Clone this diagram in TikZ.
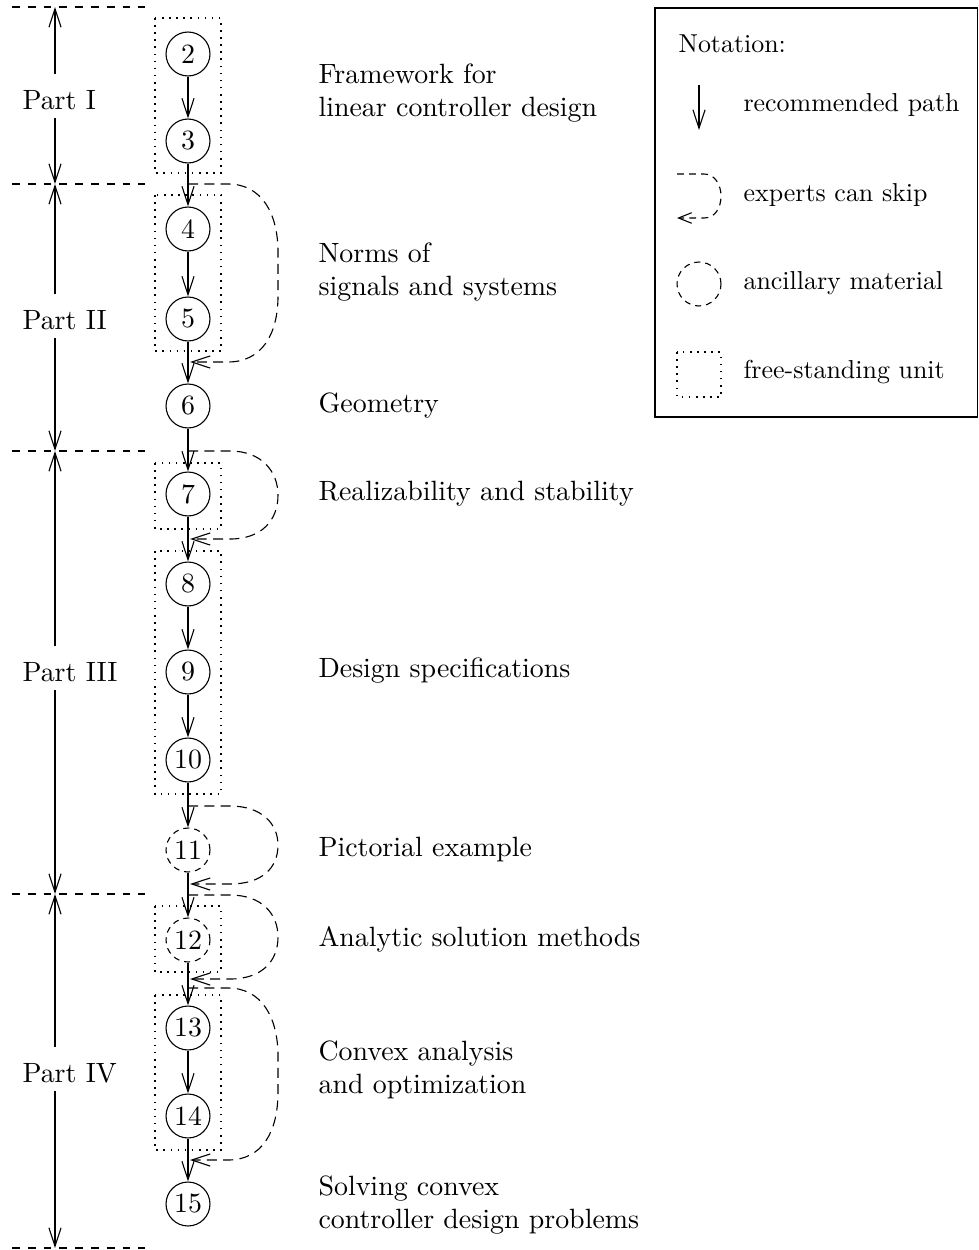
\documentclass[tikz,border=0pt]{standalone}
\usetikzlibrary{arrows.meta}
\begin{document}
\begin{tikzpicture}[x=0.38pt,y=-0.38pt,line width=0.42pt,
  tip/.style={-{Straight Barb[length=7pt,width=4.6pt]}},
  chap/.style={circle,draw,minimum size=16.7pt,inner sep=0pt,font=\fontsize{10.6}{12.6}\selectfont},
  anc/.style={chap,dash pattern=on 2.3pt off 1.9pt},
  unitbox/.style={draw,dash pattern=on 0.6pt off 2.1pt},
  sepline/.style={dash pattern=on 3pt off 3pt},
  skipline/.style={dash pattern=on 3.8pt off 2.4pt,-{Straight Barb[length=7pt,width=4.6pt]}},
  lab/.style={anchor=west,align=left,inner sep=0pt,font=\fontsize{10.6}{12.6}\selectfont},
  partlab/.style={anchor=west,inner sep=0pt,font=\fontsize{10.6}{12.6}\selectfont},
  leglab/.style={anchor=west,inner sep=0pt,font=\fontsize{9.85}{12}\selectfont}]
\useasboundingbox (0,0) rectangle (979,1250);

% separators
\foreach \yy in {7,184,451,894,1248} \draw[sepline] (12,\yy) -- (145,\yy);

% part labels and arrows
\node[partlab] (p1) at (22,100) {Part I};
\node[partlab] (p2) at (22,320) {Part II};
\node[partlab] (p3) at (22,672) {Part III};
\node[partlab] (p4) at (22,1073) {Part IV};
\coordinate (p1t) at (55,74);   \coordinate (p1b) at (55,118);
\coordinate (p2t) at (55,294);  \coordinate (p2b) at (55,338);
\coordinate (p3t) at (55,646);  \coordinate (p3b) at (55,690);
\coordinate (p4t) at (55,1047); \coordinate (p4b) at (55,1091);
\coordinate (s0) at (55,7); \coordinate (s1) at (55,184); \coordinate (s2) at (55,451);
\coordinate (s3) at (55,894); \coordinate (s4) at (55,1248);
\draw[tip] (p1t) -- (s0); \draw[tip] (p1b) -- (s1);
\draw[tip] (p2t) -- (s1); \draw[tip] (p2b) -- (s2);
\draw[tip] (p3t) -- (s2); \draw[tip] (p3b) -- (s3);
\draw[tip] (p4t) -- (s3); \draw[tip] (p4b) -- (s4);

% free-standing units
\draw[unitbox] (155,18) rectangle (221,173);
\draw[unitbox] (155,195) rectangle (221,351);
\draw[unitbox] (155,463) rectangle (221,529);
\draw[unitbox] (155,551) rectangle (221,794);
\draw[unitbox] (155,906) rectangle (221,972);
\draw[unitbox] (155,995) rectangle (221,1150);

% chapters
\node[chap] (c2) at (188,54) {2};
\node[chap] (c3) at (188,141) {3};
\node[chap] (c4) at (188,229) {4};
\node[chap] (c5) at (188,319) {5};
\node[chap] (c6) at (188,406) {6};
\node[chap] (c7) at (188,494) {7};
\node[chap] (c8) at (188,584) {8};
\node[chap] (c9) at (188,672) {9};
\node[chap] (c10) at (188,760) {10};
\node[anc] (c11) at (188,850) {11};
\node[anc] (c12) at (188,940) {12};
\node[chap] (c13) at (188,1028) {13};
\node[chap] (c14) at (188,1116) {14};
\node[chap] (c15) at (188,1204) {15};

\foreach \a/\b in {c2/c3,c3/c4,c4/c5,c5/c6,c6/c7,c7/c8,c8/c9,c9/c10,c10/c11,c11/c12,c12/c13,c13/c14,c14/c15}
  \draw[tip] (\a) -- (\b);

% skip loops
\coordinate (k1a) at (188,184);  \coordinate (k1b) at (190,362);
\coordinate (k2a) at (188,451);  \coordinate (k2b) at (190,539);
\coordinate (k3a) at (188,806);  \coordinate (k3b) at (190,884);
\coordinate (k4a) at (188,895);  \coordinate (k4b) at (190,979);
\coordinate (k5a) at (188,988);  \coordinate (k5b) at (190,1160);
\draw[skipline] (k1a) -- (228,184) .. controls (262,184) and (278,214) .. (278,252)
  -- (278,296) .. controls (278,334) and (262,362) .. (228,362) -- (k1b);
\draw[skipline] (k2a) -- (230,451) .. controls (262,451) and (278,472) .. (278,495)
  .. controls (278,520) and (262,539) .. (230,539) -- (k2b);
\draw[skipline] (k3a) -- (230,806) .. controls (262,806) and (278,824) .. (278,845)
  .. controls (278,868) and (262,884) .. (230,884) -- (k3b);
\draw[skipline] (k4a) -- (230,895) .. controls (262,895) and (278,914) .. (278,937)
  .. controls (278,961) and (262,979) .. (230,979) -- (k4b);
\draw[skipline] (k5a) -- (228,988) .. controls (262,988) and (278,1018) .. (278,1056)
  -- (278,1092) .. controls (278,1132) and (262,1160) .. (228,1160) -- (k5b);

% chapter titles
\node[lab] (t1) at (318,93) {Framework for\\linear controller design};
\node[lab] (t2) at (318,272) {Norms of\\signals and systems};
\node[lab] (t3) at (318,406) {Geometry};
\node[lab] (t4) at (318,494) {Realizability and stability};
\node[lab] (t5) at (318,671) {Design specifications};
\node[lab] (t6) at (318,850) {Pictorial example};
\node[lab] (t7) at (318,939) {Analytic solution methods};
\node[lab] (t8) at (318,1070) {Convex analysis\\and optimization};
\node[lab] (t9) at (318,1205) {Solving convex\\controller design problems};

% legend
\draw (655,8) rectangle (977.5,417);
\node[leglab] (ln) at (678,44) {Notation:};
\coordinate (la1) at (699,85); \coordinate (la2) at (699,130);
\draw[tip] (la1) -- (la2);
\node[leglab] (l1) at (743,105) {recommended path};
\coordinate (lb1) at (677,174); \coordinate (lb2) at (677,218);
\draw[dash pattern=on 2.6pt off 2pt,-{Straight Barb[length=5pt,width=4pt]}] (lb1) -- (704,174)
  .. controls (715,174) and (721,185) .. (721,196)
  .. controls (721,208) and (715,218) .. (704,218) -- (lb2);
\node[leglab] (l2) at (743,195) {experts can skip};
\node[anc] (lc) at (699,284) {};
\node[leglab] (l3) at (743,283) {ancillary material};
\draw[unitbox] (677,352) rectangle (721,397);
\node[leglab] (l4) at (743,372) {free-standing unit};
\end{tikzpicture}
\end{document}
